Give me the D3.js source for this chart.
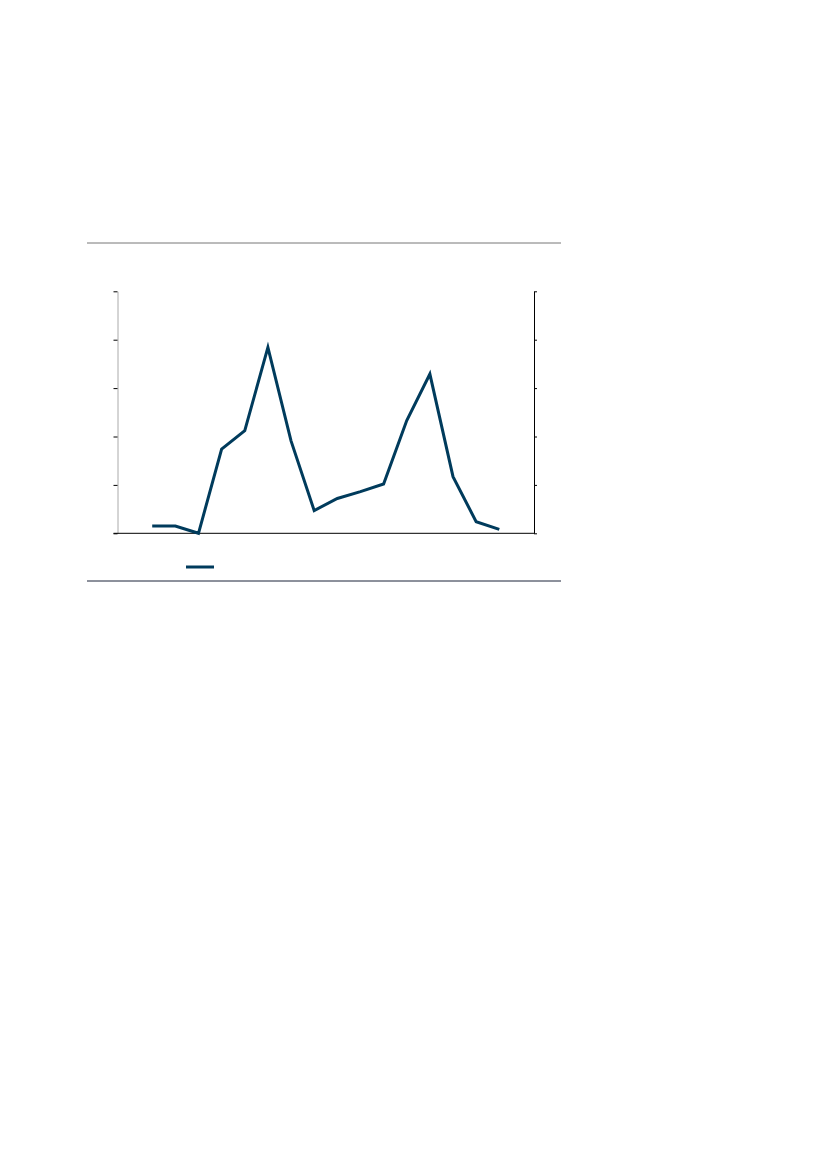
<!DOCTYPE html>
<html>
<head>
<meta charset="utf-8">
<script src="https://cdn.jsdelivr.net/npm/d3@7"></script>
<style>
  html, body { margin: 0; padding: 0; background: #fff; }
  svg { display: block; }
</style>
</head>
<body>
<svg id="chart" width="827" height="1169"></svg>
<script>
// 18 slots on the x axis; the series fills slots 1..16
const categories = d3.range(18).map(i => `c${i}`);
const seriesValues = [null, 0.15, 0.15, 0, 1.74, 2.12, 3.84, 1.91, 0.47, 0.72, 0.86, 1.02, 2.33, 3.29, 1.17, 0.24, 0.08, null];
const yTicks = [0, 1, 2, 3, 4, 5];

const lineColor = '#003b5c';

const svg = d3.select('#chart');

const margin = { top: 291.3, left: 117.5 };
const innerWidth = 534 - 117.5;
const innerHeight = 533.3 - 291.3;

// Scales
const x = d3.scaleBand().domain(categories).range([0, innerWidth]);
const y = d3.scaleLinear().domain([0, 5]).range([innerHeight, 0]);

// Top and bottom frame rules
svg.append('line')
  .attr('x1', 87).attr('x2', 561)
  .attr('y1', 243).attr('y2', 243)
  .attr('stroke', '#777').attr('stroke-width', 1);

svg.append('line')
  .attr('x1', 87).attr('x2', 561)
  .attr('y1', 581).attr('y2', 581)
  .attr('stroke', '#1a2238').attr('stroke-width', 1);

const g = svg.append('g')
  .attr('transform', `translate(${margin.left},${margin.top})`);

// Left axis (grey spine, black ticks, no labels)
const leftAxis = g.append('g')
  .call(d3.axisLeft(y).tickValues(yTicks).tickSize(4).tickSizeOuter(0).tickFormat(''));
leftAxis.select('.domain').attr('stroke', '#aaa');
leftAxis.selectAll('.tick line').attr('stroke', '#000');

// Right axis
const rightAxis = g.append('g')
  .attr('transform', `translate(${innerWidth},0)`)
  .call(d3.axisRight(y).tickValues(yTicks).tickSize(3).tickSizeOuter(0).tickFormat(''));
rightAxis.select('.domain').attr('stroke', '#000');
rightAxis.selectAll('.tick line').attr('stroke', '#000');

// Bottom axis line
g.append('line')
  .attr('x1', -4).attr('x2', innerWidth)
  .attr('y1', y(0)).attr('y2', y(0))
  .attr('stroke', '#000').attr('stroke-width', 1);

// Series line
const points = categories.map((c, i) => ({ c, v: seriesValues[i] }));
const line = d3.line()
  .defined(d => d.v !== null)
  .x(d => x(d.c) + x.bandwidth() / 2)
  .y(d => y(d.v));

g.append('path')
  .datum(points)
  .attr('fill', 'none')
  .attr('stroke', lineColor)
  .attr('stroke-width', 3)
  .attr('stroke-linejoin', 'miter')
  .attr('d', line);

// Legend swatch
svg.append('line')
  .attr('x1', 186).attr('x2', 214)
  .attr('y1', 567).attr('y2', 567)
  .attr('stroke', lineColor).attr('stroke-width', 3);
</script>
</body>
</html>
